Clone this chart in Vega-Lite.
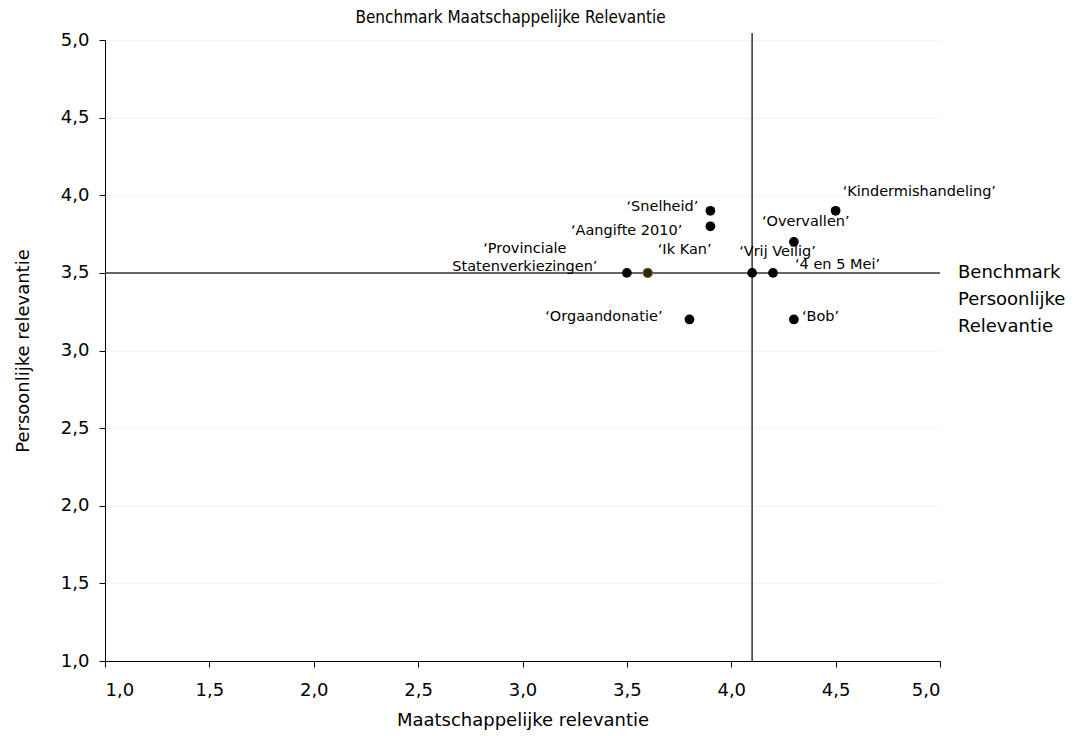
{
  "$schema": "https://vega.github.io/schema/vega-lite/v6.json",
  "width": 835,
  "height": 621,
  "autosize": {"type": "none"},
  "padding": {"left": 105, "top": 40, "right": 143, "bottom": 75},
  "background": "white",
  "title": {"text": "Benchmark Maatschappelijke Relevantie", "font": "DejaVu Sans Condensed, Liberation Sans Narrow, DejaVu Sans", "fontSize": 17, "fontWeight": "normal", "color": "#000", "anchor": "middle", "dx": -12, "offset": 4},
  "config": {
    "view": {"stroke": null},
    "font": "DejaVu Sans",
    "axis": {"domainColor": "#000", "tickColor": "#000", "tickSize": 6, "labelFontSize": 18, "titleFontSize": 18, "titleFontWeight": "normal", "labelColor": "#000", "titleColor": "#000", "labelFont": "DejaVu Sans", "titleFont": "DejaVu Sans"}
  },
  "data": {"values": [
    {"name": "‘Snelheid’", "m": 3.9, "p": 3.9, "groep": "a"},
    {"name": "‘Aangifte 2010’", "m": 3.9, "p": 3.8, "groep": "a"},
    {"name": "‘Provinciale Statenverkiezingen’", "m": 3.5, "p": 3.5, "groep": "a"},
    {"name": "‘Ik Kan’", "m": 3.6, "p": 3.5, "groep": "b"},
    {"name": "‘Vrij Veilig’", "m": 4.1, "p": 3.5, "groep": "a"},
    {"name": "‘4 en 5 Mei’", "m": 4.2, "p": 3.5, "groep": "a"},
    {"name": "‘Overvallen’", "m": 4.3, "p": 3.7, "groep": "a"},
    {"name": "‘Kindermishandeling’", "m": 4.5, "p": 3.9, "groep": "a"},
    {"name": "‘Orgaandonatie’", "m": 3.8, "p": 3.2, "groep": "a"},
    {"name": "‘Bob’", "m": 4.3, "p": 3.2, "groep": "a"}
  ]},
  "layer": [
    {
      "mark": {"type": "point", "opacity": 0},
      "encoding": {
        "x": {"field": "m", "type": "quantitative", "scale": {"domain": [1, 5], "nice": false, "zero": false}, "axis": {"values": [1, 1.5, 2, 2.5, 3, 3.5, 4, 4.5, 5], "labelExpr": "replace(format(datum.value, '.1f'), '.', ',')", "grid": false, "labelPadding": 14, "titlePadding": 12, "title": "Maatschappelijke relevantie"}},
        "y": {"field": "p", "type": "quantitative", "scale": {"domain": [1, 5], "nice": false, "zero": false}, "axis": {"values": [1, 1.5, 2, 2.5, 3, 3.5, 4, 4.5, 5], "labelExpr": "replace(format(datum.value, '.1f'), '.', ',')", "grid": true, "gridColor": "#eaf8f8", "labelPadding": 10, "titlePadding": 28, "title": "Persoonlijke relevantie"}}
      }
    },
    {
      "data": {"values": [{}]},
      "mark": {"type": "rule", "color": "#333", "strokeWidth": 1.5},
      "encoding": {"y": {"datum": 3.5}, "x": {"datum": 1}, "x2": {"datum": 5}}
    },
    {
      "data": {"values": [{}]},
      "mark": {"type": "rule", "color": "#333", "strokeWidth": 1.5, "clip": false},
      "encoding": {"x": {"datum": 4.1}, "y": {"datum": 1}, "y2": {"datum": 5.045}}
    },
    {
      "data": {"values": [{}]},
      "mark": {"type": "text", "align": "left", "baseline": "middle", "dx": 18, "fontSize": 18, "lineHeight": 27, "font": "DejaVu Sans", "color": "#000"},
      "encoding": {"x": {"datum": 5}, "y": {"datum": 3.5}, "text": {"value": ["Benchmark", "Persoonlijke", "Relevantie"]}}
    },
    {
      "transform": [{"filter": "datum.groep == 'a'"}],
      "mark": {"type": "circle", "size": 95, "color": "#000", "opacity": 1},
      "encoding": {"x": {"field": "m", "type": "quantitative"}, "y": {"field": "p", "type": "quantitative"}}
    },
    {
      "transform": [{"filter": "datum.groep == 'b'"}],
      "mark": {"type": "circle", "size": 85, "fill": "#2a2710", "stroke": "#7a6420", "strokeWidth": 1.2, "opacity": 1},
      "encoding": {"x": {"field": "m", "type": "quantitative"}, "y": {"field": "p", "type": "quantitative"}}
    },
    {
      "transform": [{"filter": "datum.name == '‘Snelheid’'"}],
      "mark": {"type": "text", "align": "right", "baseline": "middle", "dx": -12, "dy": -4, "fontSize": 14.5, "color": "#000"},
      "encoding": {"x": {"field": "m", "type": "quantitative"}, "y": {"field": "p", "type": "quantitative"}, "text": {"field": "name"}}
    },
    {
      "transform": [{"filter": "datum.name == '‘Aangifte 2010’'"}],
      "mark": {"type": "text", "align": "right", "baseline": "middle", "dx": -28, "dy": 5, "fontSize": 14.5, "color": "#000"},
      "encoding": {"x": {"field": "m", "type": "quantitative"}, "y": {"field": "p", "type": "quantitative"}, "text": {"field": "name"}}
    },
    {
      "transform": [{"filter": "datum.groep == 'a' && datum.m == 3.5"}],
      "mark": {"type": "text", "align": "center", "baseline": "middle", "dx": -102, "dy": -24, "fontSize": 14.5, "lineHeight": 18, "color": "#000"},
      "encoding": {"x": {"field": "m", "type": "quantitative"}, "y": {"field": "p", "type": "quantitative"}, "text": {"value": ["‘Provinciale", "Statenverkiezingen’"]}}
    },
    {
      "transform": [{"filter": "datum.name == '‘Ik Kan’'"}],
      "mark": {"type": "text", "align": "left", "baseline": "middle", "dx": 10, "dy": -23, "fontSize": 14.5, "color": "#000"},
      "encoding": {"x": {"field": "m", "type": "quantitative"}, "y": {"field": "p", "type": "quantitative"}, "text": {"field": "name"}}
    },
    {
      "transform": [{"filter": "datum.name == '‘Vrij Veilig’'"}],
      "mark": {"type": "text", "align": "left", "baseline": "middle", "dx": -13, "dy": -21, "fontSize": 14.5, "color": "#000"},
      "encoding": {"x": {"field": "m", "type": "quantitative"}, "y": {"field": "p", "type": "quantitative"}, "text": {"field": "name"}}
    },
    {
      "transform": [{"filter": "datum.name == '‘4 en 5 Mei’'"}],
      "mark": {"type": "text", "align": "left", "baseline": "middle", "dx": 22, "dy": -8, "fontSize": 14.5, "color": "#000"},
      "encoding": {"x": {"field": "m", "type": "quantitative"}, "y": {"field": "p", "type": "quantitative"}, "text": {"field": "name"}}
    },
    {
      "transform": [{"filter": "datum.name == '‘Overvallen’'"}],
      "mark": {"type": "text", "align": "left", "baseline": "middle", "dx": -32, "dy": -20, "fontSize": 14.5, "color": "#000"},
      "encoding": {"x": {"field": "m", "type": "quantitative"}, "y": {"field": "p", "type": "quantitative"}, "text": {"field": "name"}}
    },
    {
      "transform": [{"filter": "datum.name == '‘Kindermishandeling’'"}],
      "mark": {"type": "text", "align": "left", "baseline": "middle", "dx": 7, "dy": -19, "fontSize": 14.5, "color": "#000"},
      "encoding": {"x": {"field": "m", "type": "quantitative"}, "y": {"field": "p", "type": "quantitative"}, "text": {"field": "name"}}
    },
    {
      "transform": [{"filter": "datum.name == '‘Orgaandonatie’'"}],
      "mark": {"type": "text", "align": "right", "baseline": "middle", "dx": -27, "dy": -2, "fontSize": 14.5, "color": "#000"},
      "encoding": {"x": {"field": "m", "type": "quantitative"}, "y": {"field": "p", "type": "quantitative"}, "text": {"field": "name"}}
    },
    {
      "transform": [{"filter": "datum.name == '‘Bob’'"}],
      "mark": {"type": "text", "align": "left", "baseline": "middle", "dx": 8, "dy": -2, "fontSize": 14.5, "color": "#000"},
      "encoding": {"x": {"field": "m", "type": "quantitative"}, "y": {"field": "p", "type": "quantitative"}, "text": {"field": "name"}}
    }
  ]
}
